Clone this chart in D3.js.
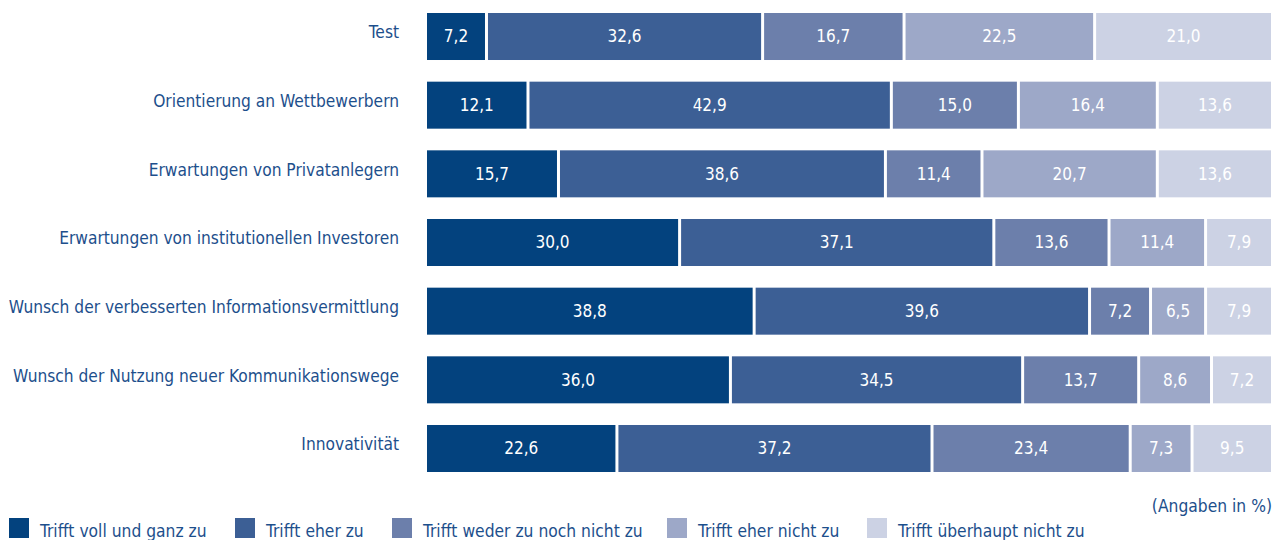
<!DOCTYPE html>
<html>
<head>
<meta charset="utf-8">
<script src="https://cdn.jsdelivr.net/npm/d3@7"></script>
<style>
  html, body { margin: 0; padding: 0; background: #fff; }
  svg { display: block; }
  text { font-family: "Liberation Sans Narrow", "DejaVu Sans Condensed", "Open Sans", sans-serif; }
</style>
</head>
<body>
<svg id="chart" width="1288" height="540"></svg>
<script>
const categories = [
  "Test",
  "Orientierung an Wettbewerbern",
  "Erwartungen von Privatanlegern",
  "Erwartungen von institutionellen Investoren",
  "Wunsch der verbesserten Informationsvermittlung",
  "Wunsch der Nutzung neuer Kommunikationswege",
  "Innovativität"
];
const seriesNames = [
  "Trifft voll und ganz zu",
  "Trifft eher zu",
  "Trifft weder zu noch nicht zu",
  "Trifft eher nicht zu",
  "Trifft überhaupt nicht zu"
];
const trifftVoll    = [7.2, 12.1, 15.7, 30.0, 38.8, 36.0, 22.6];
const trifftEher    = [32.6, 42.9, 38.6, 37.1, 39.6, 34.5, 37.2];
const trifftWeder   = [16.7, 15.0, 11.4, 13.6, 7.2, 13.7, 23.4];
const trifftEherNicht = [22.5, 16.4, 20.7, 11.4, 6.5, 8.6, 7.3];
const trifftNicht   = [21.0, 13.6, 13.6, 7.9, 7.9, 7.2, 9.5];
const colors = ["#03427e", "#3c5f95", "#6c7fab", "#9da8c8", "#ccd2e4"];
const unitNote = "(Angaben in %)";

const seriesValues = [trifftVoll, trifftEher, trifftWeder, trifftEherNicht, trifftNicht];
const rows = categories.map((c, i) => {
  const o = { cat: c };
  seriesNames.forEach((s, j) => o[s] = seriesValues[j][i]);
  return o;
});
const stacked = d3.stack().keys(seriesNames)(rows);

const svg = d3.select("#chart");
const x = d3.scaleLinear().domain([0, 100]).range([425.5, 1272.5]);
const y = d3.scaleBand().domain(categories).range([13, 472]).paddingInner(0.3155).paddingOuter(0);
const color = d3.scaleOrdinal().domain(seriesNames).range(colors);
const fmt = v => d3.format(".1f")(v).replace(".", ",");

// category labels
const yAxis = d3.axisLeft(y).tickSize(0).tickPadding(0);
const gy = svg.append("g").attr("transform", "translate(399,0)").call(yAxis);
gy.select(".domain").remove();
gy.selectAll("text")
  .attr("font-size", 17.2)
  .attr("fill", "#1d4f8c")
  .attr("dy", "0.1em");

const layers = svg.append("g").selectAll("g").data(stacked).join("g")
  .attr("fill", d => color(d.key));
layers.selectAll("rect").data(d => d).join("rect")
  .attr("x", d => x(d[0]) + 1.5)
  .attr("width", d => x(d[1]) - x(d[0]) - 3)
  .attr("y", d => y(d.data.cat))
  .attr("height", y.bandwidth());

layers.selectAll("text").data(d => d).join("text")
  .attr("x", d => (x(d[0]) + x(d[1])) / 2)
  .attr("y", d => y(d.data.cat) + y.bandwidth() / 2)
  .attr("dy", "0.35em")
  .attr("text-anchor", "middle")
  .attr("font-size", 17)
  .attr("fill", "#ffffff")
  .text(d => fmt(d[1] - d[0]));

// unit note
svg.append("text")
  .attr("x", 1272).attr("y", 512)
  .attr("text-anchor", "end")
  .attr("font-size", 17.3)
  .attr("fill", "#1d4f8c")
  .text(unitNote);

// legend
const legendX = [9, 235, 392, 667, 867];
const lg = svg.append("g").selectAll("g").data(seriesNames).join("g")
  .attr("transform", (d, i) => `translate(${legendX[i]},518)`);
lg.append("rect").attr("width", 20).attr("height", 20).attr("fill", d => color(d));
lg.append("text").attr("x", 31).attr("y", 19)
  .attr("font-size", 17.3)
  .attr("fill", "#1d4f8c")
  .text(d => d);
</script>
</body>
</html>
